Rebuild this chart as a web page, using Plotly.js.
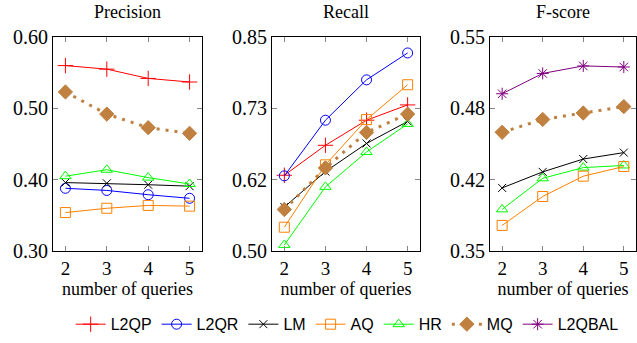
<!DOCTYPE html>
<html>
<head>
<meta charset="utf-8">
<script src="https://cdn.plot.ly/plotly-3.0.1.min.js"></script>
<style>html,body{margin:0;padding:0;background:#fff;}#chart{width:637px;height:343px;}</style>
</head>
<body>
<div id="chart"></div>
<script>
// ---------- data ----------
const queries = [2, 3, 4, 5];

const precision_L2QP = [0.560, 0.555, 0.542, 0.537];
const precision_L2QR = [0.388, 0.385, 0.379, 0.374];
const precision_LM   = [0.396, 0.395, 0.393, 0.391];
const precision_AQ   = [0.354, 0.360, 0.364, 0.363];
const precision_HR   = [0.405, 0.414, 0.403, 0.394];
const precision_MQ   = [0.523, 0.492, 0.473, 0.465];

const recall_L2QP = [0.624, 0.673, 0.714, 0.739];
const recall_L2QR = [0.623, 0.714, 0.780, 0.824];
const recall_LM   = [0.572, 0.630, 0.676, 0.712];
const recall_AQ   = [0.539, 0.641, 0.715, 0.772];
const recall_HR   = [0.510, 0.605, 0.662, 0.708];
const recall_MQ   = [0.568, 0.636, 0.694, 0.724];

const fscore_L2QBAL = [0.497, 0.516, 0.523, 0.522];
const fscore_MQ     = [0.461, 0.473, 0.479, 0.485];
const fscore_LM     = [0.409, 0.424, 0.436, 0.442];
const fscore_HR     = [0.389, 0.418, 0.428, 0.430];
const fscore_AQ     = [0.374, 0.401, 0.420, 0.429];

const panelTitles = ["Precision", "Recall", "F-score"];
const xTitle = "number of queries";
const precisionTicks = [0.30, 0.40, 0.50, 0.60];
const precisionTickText = ["0.30", "0.40", "0.50", "0.60"];
const recallTicks = [0.50, 0.50 + 0.35/3, 0.50 + 0.70/3, 0.85];
const recallTickText = ["0.50", "0.62", "0.73", "0.85"];
const fscoreTicks = [0.35, 0.35 + 0.2/3, 0.35 + 0.4/3, 0.55];
const fscoreTickText = ["0.35", "0.42", "0.48", "0.55"];

// ---------- styles ----------
const styles = {
  L2QP:   {color: "rgb(255,0,0)",     symbol: "cross-thin-open",    size: 11, dash: "solid", width: 1},
  L2QR:   {color: "rgb(0,0,255)",     symbol: "circle-open",        size: 10, dash: "solid", width: 1},
  LM:     {color: "rgb(0,0,0)",       symbol: "x-thin-open",        size: 8,  dash: "solid", width: 1},
  AQ:     {color: "rgb(255,128,0)",   symbol: "square-open",        size: 10, dash: "solid", width: 1},
  HR:     {color: "rgb(0,255,0)",     symbol: "triangle-up-open",   size: 10, dash: "solid", width: 1},
  MQ:     {color: "rgb(191,128,64)",  symbol: "diamond",            size: 11, dash: "3px,6px", width: 3},
  L2QBAL: {color: "rgb(128,0,128)",   symbol: "asterisk-open",      size: 10, dash: "solid", width: 1}
};
const order = ["L2QP", "L2QR", "LM", "AQ", "HR", "MQ", "L2QBAL"];

const shown = {};
function tr(name, y, axisIdx) {
  const s = styles[name];
  const suffix = axisIdx === 1 ? "" : String(axisIdx);
  const show = !shown[name];
  shown[name] = true;
  return {
    x: queries, y: y, name: name, type: "scatter", mode: "lines+markers",
    xaxis: "x" + suffix, yaxis: "y" + suffix,
    showlegend: show, legendrank: order.indexOf(name) + 1,
    line: {color: s.color, width: s.width, dash: s.dash},
    marker: {color: s.color, symbol: s.symbol, size: s.size, line: {color: s.color, width: 1}}
  };
}

const data = [
  tr("L2QP", precision_L2QP, 1), tr("L2QR", precision_L2QR, 1), tr("LM", precision_LM, 1),
  tr("AQ", precision_AQ, 1), tr("HR", precision_HR, 1), tr("MQ", precision_MQ, 1),
  tr("L2QP", recall_L2QP, 2), tr("L2QR", recall_L2QR, 2), tr("LM", recall_LM, 2),
  tr("AQ", recall_AQ, 2), tr("HR", recall_HR, 2), tr("MQ", recall_MQ, 2),
  tr("L2QBAL", fscore_L2QBAL, 3), tr("MQ", fscore_MQ, 3), tr("LM", fscore_LM, 3),
  tr("HR", fscore_HR, 3), tr("AQ", fscore_AQ, 3)
];

const serif = "'Liberation Serif', 'Times New Roman', serif";
function xa(domain, anchor) {
  return {
    domain: domain, anchor: anchor, range: [1.7, 5.3],
    tickvals: queries, ticktext: queries.map(String),
    showline: true, linecolor: "#000", linewidth: 1, mirror: "ticks",
    ticks: "inside", ticklen: 5, tickcolor: "#888", showgrid: false, zeroline: false,
    tickfont: {family: serif, size: 19, color: "#000"},
    title: {text: xTitle, font: {family: serif, size: 18, color: "#000"}, standoff: 4}
  };
}
function ya(range, vals, text, anchor) {
  return {
    domain: [0.268, 0.892], anchor: anchor, range: range,
    tickvals: vals, ticktext: text,
    showline: true, linecolor: "#000", linewidth: 1, mirror: "ticks",
    ticks: "inside", ticklen: 5, tickcolor: "#888", showgrid: false, zeroline: false,
    tickfont: {family: serif, size: 20, color: "#000"}
  };
}

const layout = {
  width: 637, height: 343,
  margin: {l: 0, r: 0, t: 0, b: 0},
  paper_bgcolor: "#fff", plot_bgcolor: "#fff",
  showlegend: true,
  legend: {
    orientation: "h", x: 0.545, xanchor: "center", y: 0.005, yanchor: "bottom",
    font: {family: "'Liberation Sans', Arial, sans-serif", size: 16, color: "#000"},
    traceorder: "normal", itemwidth: 30
  },
  xaxis: xa([0.0832, 0.3171], "y"),
  xaxis2: xa([0.4270, 0.6593], "y2"),
  xaxis3: xa([0.7692, 0.9984], "y3"),
  yaxis: ya([0.30, 0.60], precisionTicks, precisionTickText, "x"),
  yaxis2: ya([0.50, 0.85], recallTicks, recallTickText, "x2"),
  yaxis3: ya([0.35, 0.55], fscoreTicks, fscoreTickText, "x3"),
  annotations: panelTitles.map((t, i) => ({
    text: t, xref: "x" + (i === 0 ? "" : i + 1) + " domain", yref: "paper",
    x: 0.5, y: 1 - 12/343, xanchor: "center", yanchor: "middle", showarrow: false,
    font: {family: serif, size: 18, color: "#000"}
  }))
};

Plotly.newPlot("chart", data, layout, {staticPlot: true, displayModeBar: false});
</script>
</body>
</html>
